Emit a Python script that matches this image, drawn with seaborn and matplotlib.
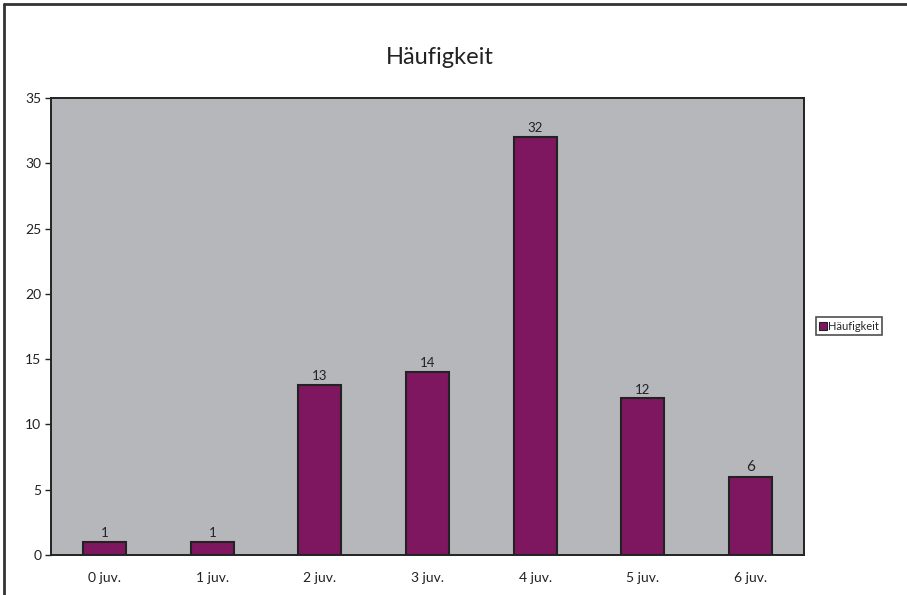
import matplotlib
matplotlib.use("Agg")
import matplotlib.pyplot as plt
import seaborn as sns
import pandas as pd
from matplotlib.lines import Line2D
from matplotlib.patches import Patch

categories = ["0 juv.", "1 juv.", "2 juv.", "3 juv.", "4 juv.", "5 juv.", "6 juv."]
values = [1, 1, 13, 14, 32, 12, 6]
yticks = [0, 5, 10, 15, 20, 25, 30, 35]
series_name = "Häufigkeit"
title = "Häufigkeit"

sns.set_theme(style="white")
plt.rcParams['font.family'] = ['Lato', 'DejaVu Sans']

df = pd.DataFrame({"cat": categories, "val": values})

fig = plt.figure(figsize=(9.07, 5.95), dpi=100)
ax = fig.add_axes([51/907, 1-555/595, (804-51)/907, (555-98)/595])
ax.set_facecolor("#B6B7BA")
bar_color = "#7F1660"
sns.barplot(data=df, x="cat", y="val", color=bar_color, saturation=1, width=0.4,
            edgecolor="#222222", linewidth=1.5, ax=ax)
ax.set_ylim(0, 35)
ax.set_xlim(-0.5, len(categories)-0.5)
ax.set_yticks(yticks)
ax.set_yticklabels([str(t) for t in yticks], fontsize=10, color="#222222")
ax.set_xticklabels(categories, fontsize=10, color="#222222")
ax.set_xlabel("")
ax.set_ylabel("")
ax.tick_params(axis="y", left=True, length=4, width=1, color="#222222", pad=3)
ax.tick_params(axis="x", bottom=False, pad=6)
for s in ax.spines.values():
    s.set_color("#222222")
    s.set_linewidth(1.4)

for i, v in enumerate(values):
    ax.annotate(str(v), (i, v), xytext=(0, 2), textcoords="offset points",
                ha="center", va="bottom", fontsize=11 if v == 6 else 9.5, color="#222222")

fig.text(440/907, 1-57/595, title, ha="center", va="center", fontsize=17, color="#222222")

handles = [Patch(facecolor=bar_color, edgecolor="#222222", linewidth=0.8)]
leg = fig.legend(handles, [series_name], loc="center", bbox_to_anchor=(849/907, 1-326/595),
                 fontsize=8, frameon=True, fancybox=False, handlelength=0.7, handleheight=0.7,
                 handletextpad=0.1, borderpad=0.3, borderaxespad=0)
leg.get_frame().set_edgecolor("#222222")
leg.get_frame().set_linewidth(1.2)

fig.add_artist(Line2D([4/907, 1], [1-4/595, 1-4/595], transform=fig.transFigure, color="#333333", lw=2))
fig.add_artist(Line2D([4/907, 4/907], [0, 1-4/595], transform=fig.transFigure, color="#333333", lw=2))

fig.savefig("out.png", dpi=100, facecolor="white")
